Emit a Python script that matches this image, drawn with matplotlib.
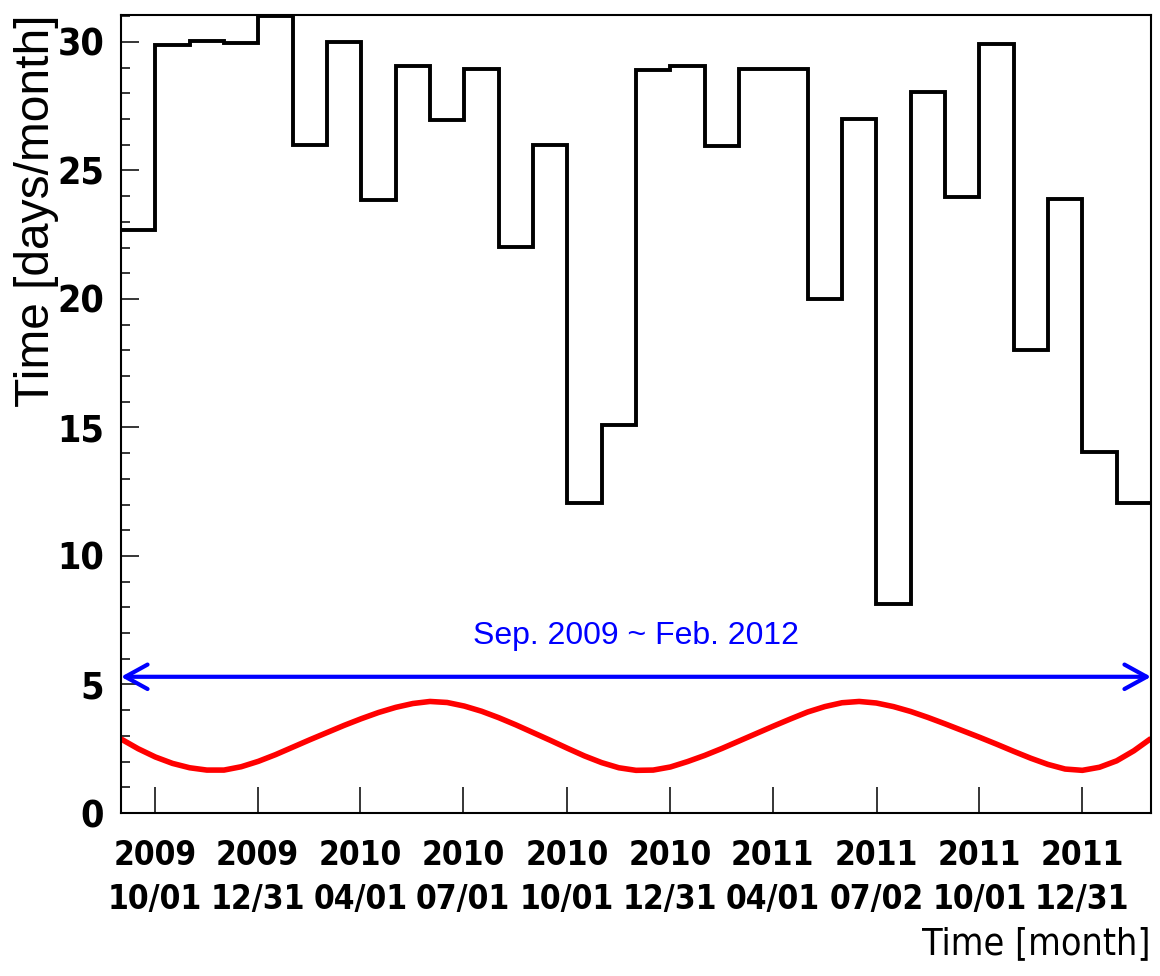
import datetime
import numpy as np
import matplotlib
matplotlib.use("Agg")
import matplotlib.pyplot as plt

# live time per month, Sep. 2009 ~ Feb. 2012 (30 bins)
live_days = [22.7, 29.87, 30.05, 29.95, 31.0, 26.0, 30.0, 23.85, 29.05, 26.95,
             28.95, 22.03, 26.0, 12.05, 15.1, 28.92, 29.08, 25.97, 28.95, 28.95,
             20.0, 27.0, 8.15, 28.05, 23.97, 29.92, 18.0, 23.9, 14.05, 12.05]

start = datetime.date(2009, 9, 1)
stop = datetime.date(2012, 3, 1)

# tick dates on the time axis
tick_dates = [datetime.date(2009, 10, 1), datetime.date(2009, 12, 31),
              datetime.date(2010, 4, 1), datetime.date(2010, 7, 1),
              datetime.date(2010, 10, 1), datetime.date(2010, 12, 31),
              datetime.date(2011, 4, 1), datetime.date(2011, 7, 2),
              datetime.date(2011, 10, 1), datetime.date(2011, 12, 31)]
tick_labels = ["2009\n10/01", "2009\n12/31", "2010\n04/01", "2010\n07/01",
               "2010\n10/01", "2010\n12/31", "2011\n04/01", "2011\n07/02",
               "2011\n10/01", "2011\n12/31"]

# red modulation curve, sampled every half month (in bin units)
curve_bin = [i * 0.5 for i in range(61)]
curve_val = [2.88, 2.50, 2.18, 1.93, 1.76, 1.67, 1.67, 1.80, 2.01, 2.27,
             2.56, 2.85, 3.13, 3.41, 3.67, 3.91, 4.11, 4.26, 4.34, 4.30,
             4.16, 3.96, 3.71, 3.43, 3.13, 2.83, 2.52, 2.22, 1.96, 1.76,
             1.66, 1.67, 1.79, 2.00, 2.24, 2.51, 2.80, 3.09, 3.38, 3.66,
             3.93, 4.14, 4.29, 4.34, 4.28, 4.14, 3.95, 3.72, 3.47, 3.21,
             2.95, 2.68, 2.40, 2.13, 1.89, 1.71, 1.66, 1.78, 2.03, 2.42,
             2.90]

total_days = (stop - start).days
n_bins = len(live_days)
edges = np.linspace(0, total_days, n_bins + 1)
bin_w = total_days / n_bins
ticks = [(d - start).days for d in tick_dates]

narrow = ["Liberation Sans Narrow", "DejaVu Sans"]
regular = ["Liberation Sans", "DejaVu Sans"]

fig = plt.figure(figsize=(11.6, 9.76), dpi=100)
ax = fig.add_axes([121 / 1160, 1 - 813 / 976, 1030 / 1160, 798 / 976])

ax.stairs(live_days, edges, baseline=None, color="black", lw=2.8, clip_on=False)
ax.plot(np.array(curve_bin) * bin_w, curve_val, color="red", lw=4,
        solid_joinstyle="round", solid_capstyle="butt")

# range arrow
ax.annotate("", xy=(total_days, 5.3), xytext=(0, 5.3),
            arrowprops=dict(arrowstyle="<->,head_length=0.4,head_width=0.22",
                            mutation_scale=40, color="blue", lw=3,
                            shrinkA=0, shrinkB=0),
            annotation_clip=False)
ax.text(total_days / 2, 6.9, "Sep. 2009 ~ Feb. 2012", color="blue",
        fontsize=23, family=regular, ha="center", va="center")

ax.set_xlim(0, total_days)
ax.set_ylim(0, 31.05)

ax.set_xticks(ticks)
ax.set_xticklabels(tick_labels, family=narrow, fontstretch="condensed",
                   fontweight="bold", fontsize=24, linespacing=1.4)
ax.set_yticks(range(0, 31, 5))
ax.set_yticks(range(0, 32), minor=True)
for lab in ax.get_yticklabels():
    lab.set_family(narrow)
    lab.set_fontstretch("condensed")
    lab.set_fontweight("bold")
    lab.set_fontsize(27)

ax.tick_params(axis="x", direction="in", length=19, width=1.1, pad=19)
ax.tick_params(axis="y", which="major", direction="in", length=13, width=1.1, pad=12)
ax.tick_params(axis="y", which="minor", direction="in", length=6.5, width=1.1)
for s in ax.spines.values():
    s.set_linewidth(1.5)

ax.set_ylabel("Time [days/month]", family=regular, fontsize=34.5, loc="top")
ax.yaxis.set_label_coords(-0.06, 1.0)
ax.set_xlabel("Time [month]", family=narrow, fontstretch="condensed",
              fontsize=27, loc="right")
ax.xaxis.set_label_coords(1.0, -0.142)

fig.savefig("out.png", dpi=100)
